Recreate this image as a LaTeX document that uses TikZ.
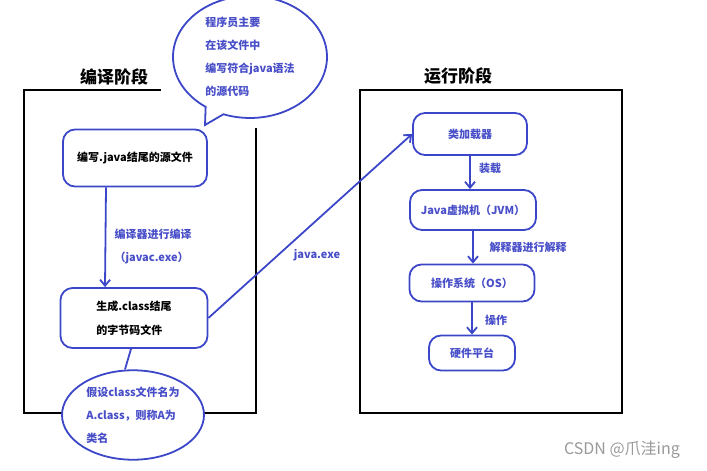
\documentclass[tikz,border=0pt]{standalone}
\usepackage{fontspec}
\setmainfont{Noto Sans CJK SC}
\usetikzlibrary{shapes.geometric,shapes.callouts,arrows.meta}

\definecolor{penblue}{RGB}{60,70,200}
\definecolor{inkblue}{RGB}{72,78,200}

\begin{document}
\begin{tikzpicture}[
    x=1pt, y=-1pt,
    block/.style={draw=penblue, line width=1.8pt, rounded corners=12pt, align=center, inner sep=2pt, font=\bfseries\fontsize{11}{23.5}\selectfont},
    note/.style={text=inkblue, align=left, font=\bfseries\fontsize{11}{23}\selectfont},
    frame/.style={draw=black, line width=2.2pt},
    line/.style={-{Straight Barb[length=6pt,width=10pt]}, draw=penblue, line width=1.8pt},
    title/.style={font=\bfseries\fontsize{17}{20}\selectfont}
]
\useasboundingbox (0,0) rectangle (707,471);

% the two stages
\draw[frame] (161,90) -- (24,90) -- (24,413) -- (256,413) -- (256,128);
\draw[frame] (360,90) rectangle (622,413);
\node[title] (compile) at (114,77) {编译阶段};
\node[title] (run) at (458,76) {运行阶段};

% compile stage
\node[ellipse callout, draw=penblue, line width=1.8pt, fill=white, minimum width=154pt, minimum height=106pt,
      callout absolute pointer={(205,125)}, note] (bubble) at (250,57) {程序员主要\\在该文件中\\编写符合java语法\\的源代码};
\node[block, minimum width=144pt, minimum height=57pt] (src) at (135,158) {编写.java结尾的源文件};
\node[block, minimum width=147pt, minimum height=60pt, align=left] (gen) at (134,318) {生成.class结尾\\的字节码文件};
\node[ellipse, draw=penblue, line width=1.8pt, fill=white, minimum width=142pt, minimum height=84pt, note] (cls) at (133,415) {假设class文件名为\\A.class，则称A为\\类名};

\draw[line] ([xshift=-29pt]src.south) -- ([xshift=-29pt]gen.north);
\node[note, anchor=west] (javac) at (111,246) {编译器进行编译\\（javac.exe）};
\draw[draw=penblue, line width=1.8pt] ([xshift=-3pt]gen.south) -- ([xshift=-8pt]cls.north);

% run stage
\node[block, text=inkblue, minimum width=114pt, minimum height=42pt] (loader) at (470,134) {类加载器};
\node[block, text=inkblue, minimum width=126pt, minimum height=40pt] (jvm) at (473,210) {Java虚拟机（JVM）};
\node[block, text=inkblue, minimum width=125pt, minimum height=37pt] (os) at (472,283) {操作系统（OS）};
\node[block, text=inkblue, minimum width=86pt, minimum height=35pt] (hw) at (472,353) {硬件平台};

\draw[line] (gen.east) -- (loader.west);
\node[note] (javaexe) at (317,255) {java.exe};

\draw[line] (loader.south) -- (loader.south |- jvm.north);
\node[note] (load) at (490,168) {装载};
\draw[line] (jvm.south) -- (jvm.south |- os.north);
\node[note] (interp) at (528,247) {解释器进行解释};
\draw[line] (os.south) -- (os.south |- hw.north);
\node[note] (operate) at (496,320) {操作};

\node[text=gray!80, font=\fontsize{16}{18}\selectfont] (mark) at (622,450) {CSDN @爪洼ing};

\end{tikzpicture}
\end{document}
